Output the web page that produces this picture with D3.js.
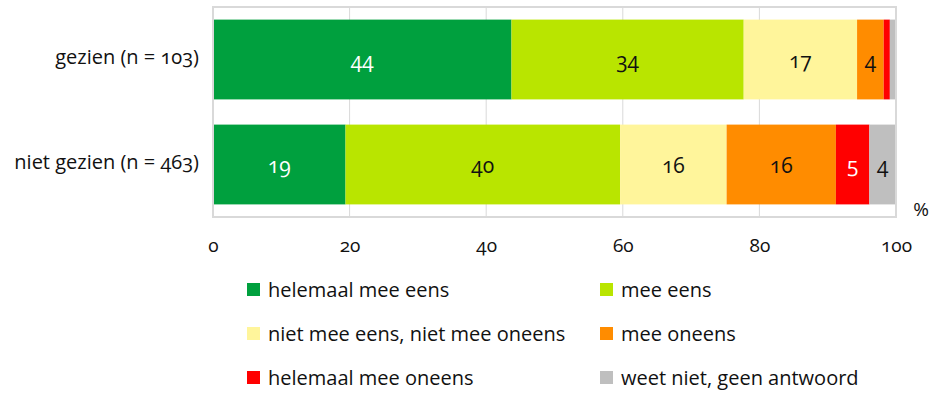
<!DOCTYPE html>
<html>
<head>
<meta charset="utf-8">
<script src="https://cdn.jsdelivr.net/npm/d3@7"></script>
<style>
  html, body { margin: 0; padding: 0; background: #fff; overflow: hidden; }
  svg { display: block; }
  svg text {
    font-family: 'Open Sans', 'Noto Sans', sans-serif;
    font-variant-numeric: oldstyle-nums;
    fill: #111;
  }
</style>
</head>
<body>
<svg id="chart"></svg>
<script>
const groups = ['gezien (n = 103)', 'niet gezien (n = 463)'];
const answers = [
  'helemaal mee eens',
  'mee eens',
  'niet mee eens, niet mee oneens',
  'mee oneens',
  'helemaal mee oneens',
  'weet niet, geen antwoord',
];
const gezien = [43.7, 34.0, 16.6, 3.9, 0.9, 0.9];
const nietGezien = [19.4, 40.2, 15.6, 16.0, 4.9, 3.9];
const xTicks = [0, 20, 40, 60, 80, 100];

const COLORS = ['#00a03e', '#b9e500', '#fff59b', '#ff8c00', '#ff0000', '#bfbfbf'];

const width = 933;
const height = 415;
const margin = { top: 7, right: 37, bottom: 198, left: 213 };
const innerWidth = width - margin.left - margin.right;
const innerHeight = height - margin.top - margin.bottom;

const svg = d3.select('#chart')
  .attr('width', width)
  .attr('height', height);

const g = svg.append('g')
  .attr('transform', `translate(${margin.left}, ${margin.top})`);

const rows = [gezien, nietGezien].map((vals, i) => {
  const row = { group: groups[i] };
  answers.forEach((a, j) => { row[a] = vals[j]; });
  return row;
});

const series = d3.stack().keys(answers)(rows);

const x = d3.scaleLinear()
  .domain([0, 100])
  .range([0, innerWidth]);
const y = d3.scaleBand()
  .domain(groups)
  .range([0, innerHeight])
  .paddingInner(0.24)
  .paddingOuter(0.12);

const color = d3.scaleOrdinal().domain(answers).range(COLORS);

// gridlines
g.append('g')
  .attr('class', 'grid')
  .selectAll('line')
  .data(xTicks.slice(1, -1))
  .join('line')
    .attr('x1', d => x(d))
    .attr('x2', d => x(d))
    .attr('y1', 0)
    .attr('y2', innerHeight)
    .attr('stroke', '#d9d9d9')
    .attr('stroke-width', 1);

// Bars
const layer = g.selectAll('.layer')
  .data(series)
  .join('g')
    .attr('class', 'layer')
    .attr('fill', d => color(d.key));

layer.selectAll('rect')
  .data(d => d)
  .join('rect')
    .attr('x', d => x(d[0]))
    .attr('y', d => y(d.data.group))
    .attr('width', d => x(d[1]) - x(d[0]))
    .attr('height', y.bandwidth());

// Value labels (only segments wide enough)
layer.selectAll('text')
  .data(d => d.filter(v => v[1] - v[0] >= 2).map(v => Object.assign(v, { key: d.key })))
  .join('text')
    .attr('x', d => x((d[0] + d[1]) / 2))
    .attr('y', d => y(d.data.group) + y.bandwidth() / 2)
    .attr('dy', '0.4em')
    .attr('text-anchor', 'middle')
    .style('font-size', '21px')
    .style('fill', d => (d.key === answers[0] || d.key === answers[4]) ? '#fff' : '#111')
    .text(d => Math.round(d[1] - d[0]));

// frame
g.append('rect')
  .attr('x', 0)
  .attr('y', 0)
  .attr('width', innerWidth)
  .attr('height', innerHeight)
  .attr('fill', 'none')
  .attr('stroke', '#d9d9d9')
  .attr('stroke-width', 2);

// Y axis labels
const yAxis = d3.axisLeft(y).tickSize(0).tickPadding(14);
g.append('g')
  .attr('class', 'axis y')
  .call(yAxis)
  .call(s => s.select('.domain').remove())
  .selectAll('text')
    .style('font-size', '20px')
    .attr('dy', '0.2em');

// X axis labels
const xAxis = d3.axisBottom(x).tickValues(xTicks).tickSize(0).tickPadding(22);
g.append('g')
  .attr('class', 'axis x')
  .attr('transform', `translate(0, ${innerHeight})`)
  .call(xAxis)
  .call(s => s.select('.domain').remove())
  .selectAll('text')
    .style('font-size', '19px');

svg.append('text')
  .attr('x', 921)
  .attr('y', 216)
  .attr('text-anchor', 'middle')
  .style('font-size', '19px')
  .text('%');

// Legend
const legend = svg.append('g')
  .attr('class', 'legend')
  .selectAll('g')
  .data(answers)
  .join('g')
    .attr('transform', (d, i) => `translate(${i % 2 === 0 ? 247 : 600}, ${290 + Math.floor(i / 2) * 44})`);

legend.append('rect')
  .attr('x', 0)
  .attr('y', -7)
  .attr('width', 13)
  .attr('height', 13)
  .attr('fill', d => color(d));

legend.append('text')
  .attr('x', 21)
  .attr('y', 0)
  .attr('dy', '0.35em')
  .style('font-size', '20px')
  .text(d => d);
</script>
</body>
</html>
